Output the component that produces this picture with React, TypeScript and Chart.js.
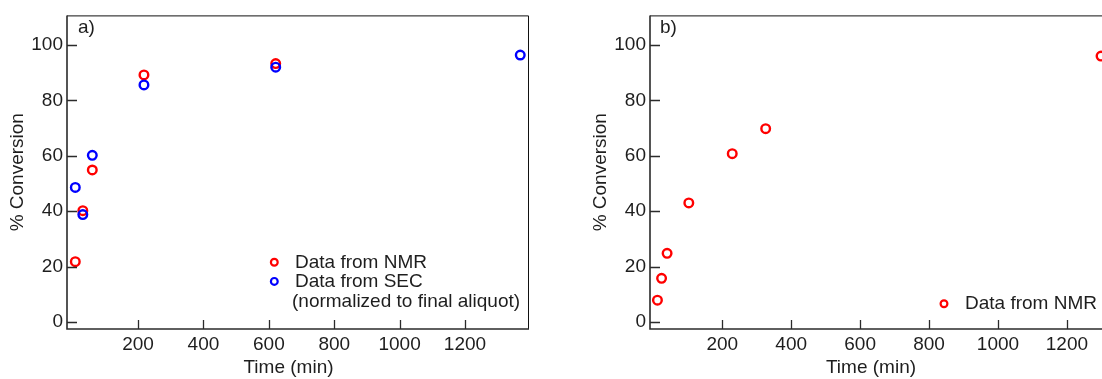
import React, { useEffect, useRef } from "react";
import { Chart, registerables } from "chart.js";

Chart.register(...registerables);

const FONT_FAMILY = "'Liberation Sans', Arial, Helvetica, sans-serif";
const FONT_SIZE = 19;
const TEXT = "#1e1e1e";
const AXIS = "#2b2b2b";
const RED = "#ff0000";
const BLUE = "#0000ff";

// tick values
const xTicks = [200, 400, 600, 800, 1000, 1200];
const yTicks = [0, 20, 40, 60, 80, 100];

// Panel a) data
const nmrTimeA = [8, 31, 60, 218, 621];
const nmrConvA = [21.8, 40.2, 54.9, 89.2, 93.3];
const secTimeA = [8, 31, 60, 218, 621, 1369];
const secConvA = [48.6, 38.8, 60.2, 85.6, 92.0, 96.4];

// Panel b) data
const nmrTimeB = [12, 24, 40, 103, 229, 326, 1299];
const nmrConvB = [7.9, 15.8, 24.8, 43.0, 60.8, 69.8, 96.0];

const toPoints = (xs: number[], ys: number[]) => xs.map((x, i) => ({ x, y: ys[i] }));

type LegendItem = { color: string | null; text: string; baseline: number };

type PanelConfig = {
  label: string;
  width: number;
  yAxisWidth: number;
  yTitlePad: number;
  rightPad: number;
  xMin: number;
  xMax: number;
  datasets: { label: string; xs: number[]; ys: number[]; color: string }[];
  legendMarkerX: number;
  legendTextX: number;
  legend: LegendItem[];
  labelX: number;
};

const FONT = { family: FONT_FAMILY, size: FONT_SIZE };

function makeDecorPlugin(cfg: PanelConfig) {
  return {
    id: "decor",
    afterDraw(chart: any) {
      const ctx = chart.ctx as CanvasRenderingContext2D;
      const { left, right, top, bottom } = chart.chartArea;
      const xs = chart.scales.x;
      const ys = chart.scales.y;
      ctx.save();
      // frame
      ctx.strokeStyle = "#111";
      ctx.lineWidth = 1;
      ctx.beginPath();
      ctx.moveTo(left, top + 0.5);
      ctx.lineTo(right + 0.5, top + 0.5);
      ctx.lineTo(right + 0.5, bottom);
      ctx.stroke();
      ctx.strokeStyle = AXIS;
      ctx.lineWidth = 1.6;
      ctx.beginPath();
      ctx.moveTo(left, top);
      ctx.lineTo(left, bottom);
      ctx.lineTo(right + 1, bottom);
      ctx.stroke();
      // inside ticks
      ctx.lineWidth = 1.3;
      ctx.beginPath();
      xs.ticks.forEach((t: any) => {
        const px = Math.round(xs.getPixelForValue(t.value)) + 0.5;
        if (px < right) {
          ctx.moveTo(px, bottom);
          ctx.lineTo(px, bottom - 9);
        }
      });
      ys.ticks.forEach((t: any) => {
        const py = Math.round(ys.getPixelForValue(t.value)) + 0.5;
        ctx.moveTo(left, py);
        ctx.lineTo(left + 10, py);
      });
      ctx.stroke();
      // panel label
      ctx.fillStyle = TEXT;
      ctx.font = `${FONT_SIZE}px ${FONT_FAMILY}`;
      ctx.textBaseline = "alphabetic";
      ctx.textAlign = "left";
      ctx.fillText(cfg.label, cfg.labelX, 32.7);
      // x axis title
      ctx.textAlign = "center";
      ctx.fillText("Time (min)", (left + right) / 2 - 9, 373);
      // legend
      ctx.textAlign = "left";
      cfg.legend.forEach((item) => {
        if (item.color) {
          ctx.strokeStyle = item.color;
          ctx.lineWidth = 2.2;
          ctx.beginPath();
          ctx.arc(cfg.legendMarkerX, item.baseline - 5.5, 3.4, 0, Math.PI * 2);
          ctx.stroke();
          ctx.fillText(item.text, cfg.legendTextX, item.baseline);
        } else {
          ctx.fillText(item.text, cfg.legendTextX - 3, item.baseline);
        }
      });
      ctx.restore();
    },
  };
}

function Panel({ cfg, left }: { cfg: PanelConfig; left: number }) {
  const ref = useRef<HTMLCanvasElement | null>(null);
  useEffect(() => {
    if (!ref.current) return;
    const chart = new Chart(ref.current, {
      type: "scatter",
      data: {
        datasets: cfg.datasets.map((d) => ({
          label: d.label,
          data: toPoints(d.xs, d.ys),
          borderColor: d.color,
          backgroundColor: "rgba(0,0,0,0)",
          pointBorderColor: d.color,
          pointBackgroundColor: "rgba(0,0,0,0)",
          pointRadius: 4.3,
          pointBorderWidth: 2.4,
          showLine: false,
        })),
      },
      options: {
        animation: false,
        responsive: false,
        devicePixelRatio: 1,
        layout: { padding: { top: 12, right: cfg.rightPad, left: 0, bottom: 0 } },
        plugins: { legend: { display: false }, tooltip: { enabled: false } },
        scales: {
          x: {
            type: "linear",
            min: cfg.xMin,
            max: cfg.xMax,
            afterFit: (s: any) => {
              s.height = 50;
            },
            afterBuildTicks: (s: any) => {
              s.ticks = xTicks.map((v) => ({ value: v }));
            },
            grid: { display: false, drawTicks: false },
            border: { display: false },
            ticks: {
              font: FONT,
              color: TEXT,
              padding: 4,
              maxRotation: 0,
              autoSkip: false,
              callback: (v: any) => String(v),
            },
          },
          y: {
            type: "linear",
            min: -2.5,
            max: 110.7,
            afterFit: (s: any) => {
              s.width = cfg.yAxisWidth;
            },
            afterBuildTicks: (s: any) => {
              s.ticks = yTicks.map((v) => ({ value: v }));
            },
            grid: { display: false, drawTicks: false },
            border: { display: false },
            ticks: {
              font: FONT,
              color: TEXT,
              padding: 4,
              autoSkip: false,
              callback: (v: any) => String(v),
            },
            title: {
              display: true,
              text: "% Conversion",
              font: FONT,
              color: TEXT,
              padding: { top: cfg.yTitlePad, bottom: 0 },
            },
          },
        },
      },
      plugins: [makeDecorPlugin(cfg)],
    } as any);
    return () => chart.destroy();
  }, [cfg]);
  return (
    <canvas
      ref={ref}
      width={cfg.width}
      height={379}
      style={{ position: "absolute", left, top: 0, width: cfg.width, height: 379 }}
    />
  );
}

const panelA: PanelConfig = {
  label: "a)",
  width: 560,
  yAxisWidth: 67,
  yTitlePad: 6,
  rightPad: 560 - 528,
  xMin: -17.4,
  xMax: 1392.7,
  datasets: [
    { label: "Data from SEC", xs: secTimeA, ys: secConvA, color: BLUE },
    { label: "Data from NMR", xs: nmrTimeA, ys: nmrConvA, color: RED },
  ],
  legendMarkerX: 274.3,
  legendTextX: 295,
  legend: [
    { color: RED, text: "Data from NMR", baseline: 267.7 },
    { color: BLUE, text: "Data from SEC", baseline: 286.9 },
    { color: null, text: "(normalized to final aliquot)", baseline: 306.5 },
  ],
  labelX: 78,
};

const panelB: PanelConfig = {
  label: "b)",
  width: 600,
  yAxisWidth: 90,
  yTitlePad: 29,
  rightPad: 50,
  xMin: -9.6,
  xMax: 1325,
  datasets: [{ label: "Data from NMR", xs: nmrTimeB, ys: nmrConvB, color: RED }],
  legendMarkerX: 384,
  legendTextX: 405,
  legend: [{ color: RED, text: "Data from NMR", baseline: 309.3 }],
  labelX: 100,
};

export default function App() {
  return (
    <div
      style={{
        position: "absolute",
        left: 0,
        top: 0,
        width: 1102,
        height: 379,
        overflow: "hidden",
        background: "#fff",
      }}
    >
      <Panel cfg={panelA} left={0} />
      <Panel cfg={panelB} left={560} />
    </div>
  );
}
